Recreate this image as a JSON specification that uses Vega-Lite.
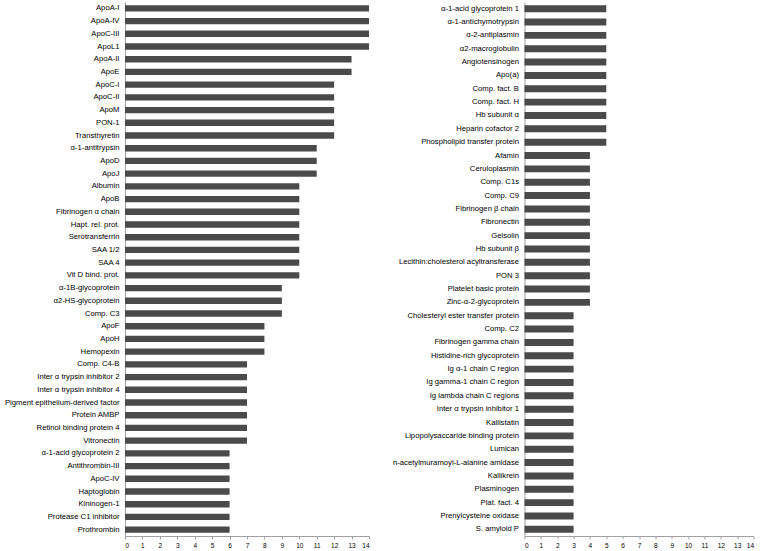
{
  "$schema": "https://vega.github.io/schema/vega-lite/v6.json",
  "padding": {"left": 4, "top": 2, "right": 2, "bottom": 0},
  "background": "white",
  "config": {
    "view": {"stroke": null},
    "font": "Liberation Sans",
    "axis": {"domainColor": "#a0a0a0", "tickColor": "#a0a0a0", "labelColor": "#000000", "labelFont": "Liberation Sans", "grid": false, "title": null},
    "concat": {"spacing": 21.5}
  },
  "datasets": {
    "left": [
      {"protein": "ApoA-I", "n": 14},
      {"protein": "ApoA-IV", "n": 14},
      {"protein": "ApoC-III", "n": 14},
      {"protein": "ApoL1", "n": 14},
      {"protein": "ApoA-II", "n": 13},
      {"protein": "ApoE", "n": 13},
      {"protein": "ApoC-I", "n": 12},
      {"protein": "ApoC-II", "n": 12},
      {"protein": "ApoM", "n": 12},
      {"protein": "PON-1", "n": 12},
      {"protein": "Transthyretin", "n": 12},
      {"protein": "α-1-antitrypsin", "n": 11},
      {"protein": "ApoD", "n": 11},
      {"protein": "ApoJ", "n": 11},
      {"protein": "Albumin", "n": 10},
      {"protein": "ApoB", "n": 10},
      {"protein": "Fibrinogen α chain", "n": 10},
      {"protein": "Hapt. rel. prot.", "n": 10},
      {"protein": "Serotransferrin", "n": 10},
      {"protein": "SAA 1/2", "n": 10},
      {"protein": "SAA 4", "n": 10},
      {"protein": "Vit D bind. prot.", "n": 10},
      {"protein": "α-1B-glycoprotein", "n": 9},
      {"protein": "α2-HS-glycoprotein", "n": 9},
      {"protein": "Comp. C3", "n": 9},
      {"protein": "ApoF", "n": 8},
      {"protein": "ApoH", "n": 8},
      {"protein": "Hemopexin", "n": 8},
      {"protein": "Comp. C4-B", "n": 7},
      {"protein": "Inter α trypsin inhibitor 2", "n": 7},
      {"protein": "Inter α trypsin inhibitor 4", "n": 7},
      {"protein": "Pigment epithelium-derived factor", "n": 7},
      {"protein": "Protein AMBP", "n": 7},
      {"protein": "Retinol binding protein 4", "n": 7},
      {"protein": "Vitronectin", "n": 7},
      {"protein": "α-1-acid glycoprotein 2", "n": 6},
      {"protein": "Antithrombin-III", "n": 6},
      {"protein": "ApoC-IV", "n": 6},
      {"protein": "Haptoglobin", "n": 6},
      {"protein": "Kininogen-1", "n": 6},
      {"protein": "Protease C1 inhibitor", "n": 6},
      {"protein": "Prothrombin", "n": 6}
    ],
    "right": [
      {"protein": "α-1-acid glycoprotein 1", "n": 5},
      {"protein": "α-1-antichymotrypsin", "n": 5},
      {"protein": "α-2-antiplasmin", "n": 5},
      {"protein": "α2-macroglobulin", "n": 5},
      {"protein": "Angiotensinogen", "n": 5},
      {"protein": "Apo(a)", "n": 5},
      {"protein": "Comp. fact. B", "n": 5},
      {"protein": "Comp. fact. H", "n": 5},
      {"protein": "Hb subunit α", "n": 5},
      {"protein": "Heparin cofactor 2", "n": 5},
      {"protein": "Phospholipid transfer protein", "n": 5},
      {"protein": "Afamin", "n": 4},
      {"protein": "Ceruloplasmin", "n": 4},
      {"protein": "Comp. C1s", "n": 4},
      {"protein": "Comp. C9", "n": 4},
      {"protein": "Fibrinogen β chain", "n": 4},
      {"protein": "Fibronectin", "n": 4},
      {"protein": "Gelsolin", "n": 4},
      {"protein": "Hb subunit β", "n": 4},
      {"protein": "Lecithin:cholesterol acyltransferase", "n": 4},
      {"protein": "PON 3", "n": 4},
      {"protein": "Platelet basic protein", "n": 4},
      {"protein": "Zinc-α-2-glycoprotein", "n": 4},
      {"protein": "Cholesteryl ester transfer protein", "n": 3},
      {"protein": "Comp. C2", "n": 3},
      {"protein": "Fibrinogen gamma chain", "n": 3},
      {"protein": "Histidine-rich glycoprotein", "n": 3},
      {"protein": "Ig α-1 chain C region", "n": 3},
      {"protein": "Ig gamma-1 chain C region", "n": 3},
      {"protein": "Ig lambda chain C regions", "n": 3},
      {"protein": "Inter α trypsin inhibitor 1", "n": 3},
      {"protein": "Kallistatin", "n": 3},
      {"protein": "Lipopolysaccaride binding protein", "n": 3},
      {"protein": "Lumican", "n": 3},
      {"protein": "n-acetylmuramoyl-L-alanine amidase", "n": 3},
      {"protein": "Kallikrein", "n": 3},
      {"protein": "Plasminogen", "n": 3},
      {"protein": "Plat. fact. 4", "n": 3},
      {"protein": "Prenylcysteine oxidase", "n": 3},
      {"protein": "S. amyloid P", "n": 3}
    ]
  },
  "hconcat": [
    {
      "width": 244,
      "height": 534,
      "data": {"name": "left"},
      "mark": {"type": "bar", "color": "#4a4a4a"},
      "encoding": {
        "y": {"field": "protein", "type": "nominal", "sort": null,
              "scale": {"paddingInner": 0.5, "paddingOuter": 0.25},
              "axis": {"ticks": false, "labelFontSize": 7.7, "labelPadding": 6, "labelLimit": 300}},
        "x": {"field": "n", "type": "quantitative",
              "scale": {"domain": [0, 14], "nice": false},
              "axis": {"values": [0,1,2,3,4,5,6,7,8,9,10,11,12,13,14], "labelFontSize": 6.5, "tickSize": 3, "labelPadding": 3}}
      }
    },
    {
      "width": 229,
      "height": 534,
      "data": {"name": "right"},
      "mark": {"type": "bar", "color": "#4a4a4a"},
      "encoding": {
        "y": {"field": "protein", "type": "nominal", "sort": null,
              "scale": {"paddingInner": 0.48, "paddingOuter": 0.24},
              "axis": {"ticks": false, "labelFontSize": 7.7, "labelPadding": 6, "labelLimit": 300}},
        "x": {"field": "n", "type": "quantitative",
              "scale": {"domain": [0, 14], "nice": false},
              "axis": {"values": [0,1,2,3,4,5,6,7,8,9,10,11,12,13,14], "labelFontSize": 6.5, "tickSize": 3, "labelPadding": 3}}
      }
    }
  ]
}
